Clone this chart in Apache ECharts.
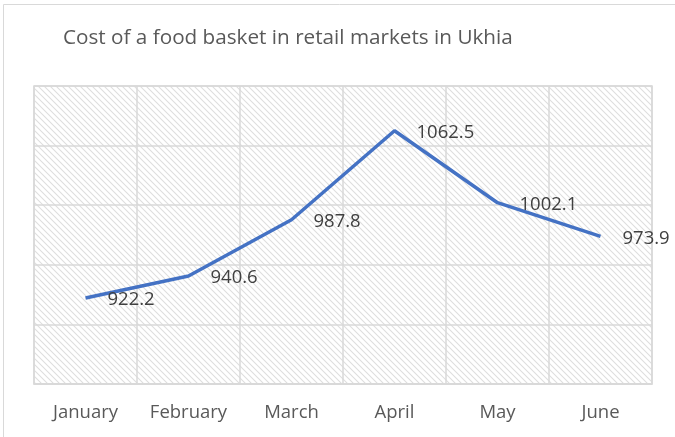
<!DOCTYPE html>
<html>
<head>
<meta charset="utf-8">
<script src="https://cdn.jsdelivr.net/npm/echarts@6/dist/echarts.min.js"></script>
<style>
	html, body { margin: 0; padding: 0; background: #fff; }
	#chart { width: 675px; height: 437px; }
</style>
</head>
<body>
<div id="chart"></div>
<script>
const months = ['January', 'February', 'March', 'April', 'May', 'June'];
const basketCost = [922.2, 940.6, 987.8, 1062.5, 1002.1, 973.9];

/* hatch pattern for plot area */
const makeHatch = () => {
	const c = document.createElement('canvas');
	c.width = 6;
	c.height = 6;
	const ctx = c.getContext('2d');
	ctx.fillStyle = '#ffffff';
	ctx.fillRect(0, 0, 6, 6);
	ctx.strokeStyle = '#dedede';
	ctx.lineWidth = 1.1;
	ctx.beginPath();
	ctx.moveTo(-2, -2); ctx.lineTo(8, 8);
	ctx.moveTo(-8, -2); ctx.lineTo(2, 8);
	ctx.moveTo(4, -2); ctx.lineTo(14, 8);
	ctx.stroke();
	return c;
};

const chart = echarts.init(document.getElementById('chart'));
chart.setOption({
	animation: false,
	textStyle: { fontFamily: 'Open Sans' },
	title: {
		text: 'Cost of a food basket in retail markets in Ukhia',
		left: 58,
		top: 23,
		textStyle: { fontSize: 20.7, fontWeight: 'normal', color: '#595959', fontFamily: 'Open Sans' }
	},
	graphic: [{
		type: 'rect',
		shape: { x: 3.5, y: 4.5, width: 720, height: 500 },
		style: { fill: 'none', stroke: '#d9d9d9', lineWidth: 1 },
		silent: true
	}],
	grid: {
		left: 34,
		right: 23,
		top: 86,
		bottom: 53,
		show: true,
		backgroundColor: { image: makeHatch(), repeat: 'repeat' },
		borderColor: '#d9d9d9',
		borderWidth: 1.5
	},
	xAxis: {
		type: 'category',
		data: months,
		boundaryGap: true,
		axisLine: { lineStyle: { color: '#d9d9d9', width: 1.5 } },
		axisTick: { show: false },
		axisLabel: { color: '#595959', fontSize: 18.5, margin: 19 },
		splitLine: { show: true, lineStyle: { color: '#d9d9d9', width: 1.5 } }
	},
	yAxis: {
		type: 'value',
		min: 850,
		max: 1100,
		interval: 50,
		axisLabel: { show: false },
		axisLine: { show: false },
		axisTick: { show: false },
		splitLine: { show: true, lineStyle: { color: '#d9d9d9', width: 1.5 } }
	},
	series: [{
		type: 'line',
		data: basketCost,
		showSymbol: true,
		symbol: 'circle',
		symbolSize: 0,
		lineStyle: { color: '#4472c4', width: 3.5 },
		itemStyle: { color: '#4472c4' },
		label: {
			show: true,
			position: 'right',
			distance: 22,
			offset: [0, 2],
			color: '#404040',
			fontSize: 18.5,
			formatter: p => p.value.toFixed(1)
		}
	}]
});
</script>
</body>
</html>
